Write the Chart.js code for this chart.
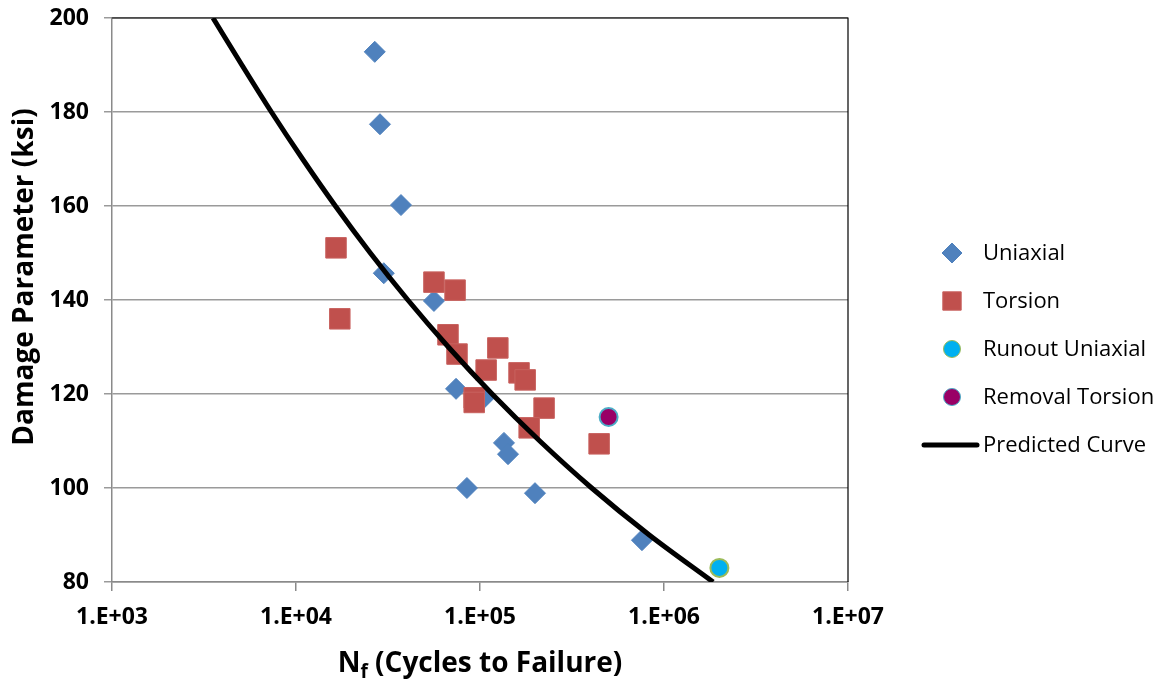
<!DOCTYPE html>
<html>
<head>
<meta charset="utf-8">
<script src="https://cdn.jsdelivr.net/npm/chart.js@4.4.0/dist/chart.umd.min.js"></script>
<style>
  html, body { margin: 0; padding: 0; background: #fff; }
</style>
</head>
<body>
<canvas id="snChart" width="1169" height="680"></canvas>
<script>
// data
var seriesNames = ["Uniaxial", "Torsion", "Runout Uniaxial", "Removal Torsion", "Predicted Curve"];
var xTickValues = [1e3, 1e4, 1e5, 1e6, 1e7];
var xTickLabels = ["1.E+03", "1.E+04", "1.E+05", "1.E+06", "1.E+07"];

var uniaxialN = [26800, 28600, 37200, 30000, 56200, 74100, 104000, 135000, 142000, 84900, 199000, 759000];
var uniaxialS = [192.8, 177.4, 160.2, 145.7, 139.8, 121.1, 119.0, 109.6, 107.2, 100.0, 98.9, 88.9];

var torsionN = [16500, 17300, 56200, 73200, 67000, 75000, 125000, 108000, 163000, 176000, 93000, 93000, 223000, 185000, 444000];
var torsionS = [151.1, 136.0, 143.8, 142.1, 132.6, 128.5, 129.8, 125.1, 124.5, 123.0, 119.2, 118.2, 117.0, 112.8, 109.4];

var runoutN = [2000000];
var runoutS = [83.0];

var removalN = [500000];
var removalS = [115.1];

var curveN = [3540, 5080, 7350, 10860, 16370, 25350, 40550, 67300, 116400, 211300, 404600, 831800, 1849000];
var curveS = [200, 190, 180, 170, 160, 150, 140, 130, 120, 110, 100, 90, 80];

function pairs(xs, ys) {
  return xs.map(function(x, i) { return { x: x, y: ys[i] }; });
}

var tickFont = { family: "'Open Sans'", size: 23, weight: 'bold' };

// axis titles (x title has a subscript), frame and legend
var decorPlugin = {
  id: 'decor',
  beforeDatasetsDraw: function(chart) {
    var ctx = chart.ctx, a = chart.chartArea;
    ctx.save();
    ctx.strokeStyle = '#000';
    ctx.lineWidth = 1.2;
    ctx.beginPath();
    ctx.moveTo(a.left, a.top);
    ctx.lineTo(a.right, a.top);
    ctx.lineTo(a.right, a.bottom);
    ctx.stroke();
    ctx.restore();
  },
  afterDraw: function(chart) {
    var ctx = chart.ctx, a = chart.chartArea;
    ctx.save();
    ctx.fillStyle = '#000';

    // x title: N_f (Cycles to Failure)
    var big = "bold 28px 'Open Sans'", small = "bold 19px 'Open Sans'";
    var rest = " (Cycles to Failure)";
    ctx.font = big;
    var wN = ctx.measureText("N").width, wR = ctx.measureText(rest).width;
    ctx.font = small;
    var wF = ctx.measureText("f").width;
    var cx = (a.left + a.right) / 2;
    var x0 = cx - (wN + wF + wR) / 2;
    var base = 672;
    ctx.textBaseline = 'alphabetic';
    ctx.textAlign = 'left';
    ctx.font = big;
    ctx.fillText("N", x0, base);
    ctx.font = small;
    ctx.fillText("f", x0 + wN, base + 6);
    ctx.font = big;
    ctx.fillText(rest, x0 + wN + wF, base);

    // y title
    ctx.save();
    ctx.translate(33, 277);
    ctx.rotate(-Math.PI / 2);
    ctx.textAlign = 'center';
    ctx.font = big;
    ctx.fillText("Damage Parameter (ksi)", 0, 0);
    ctx.restore();

    // legend
    var rowY = 253, rowGap = 48, markX = 952, textX = 983;
    ctx.font = "22px 'Open Sans'";
    ctx.textBaseline = 'middle';
    chart.data.datasets.forEach(function(ds, i) {
      var y = rowY + i * rowGap;
      if (ds.showLine) {
        ctx.strokeStyle = ds.borderColor;
        ctx.lineWidth = 5;
        ctx.lineCap = 'round';
        ctx.beginPath();
        ctx.moveTo(924, y);
        ctx.lineTo(977, y);
        ctx.stroke();
      } else {
        ctx.fillStyle = ds.backgroundColor;
        ctx.strokeStyle = ds.borderColor;
        Chart.helpers.drawPoint(ctx, {
          pointStyle: ds.pointStyle,
          radius: ds.legendRadius,
          borderWidth: ds.borderWidth,
          rotation: 0
        }, markX, y);
      }
      ctx.fillStyle = '#000';
      ctx.fillText(ds.label, textX, y + 1);
    });
    ctx.restore();
  }
};

var chart = new Chart(document.getElementById('snChart'), {
  type: 'scatter',
  data: {
    datasets: [
      {
        label: seriesNames[0],
        data: pairs(uniaxialN, uniaxialS),
        pointStyle: 'rectRot',
        pointRadius: 10.5,
        legendRadius: 10,
        backgroundColor: '#4F81BD',
        borderColor: '#4F81BD',
        borderWidth: 1,
        order: 4
      },
      {
        label: seriesNames[1],
        data: pairs(torsionN, torsionS),
        pointStyle: 'rect',
        pointRadius: 14.5,
        legendRadius: 13,
        backgroundColor: '#C0504D',
        borderColor: '#C8625F',
        borderWidth: 1,
        order: 3
      },
      {
        label: seriesNames[2],
        data: pairs(runoutN, runoutS),
        pointStyle: 'circle',
        pointRadius: 9,
        legendRadius: 8.5,
        backgroundColor: '#00B0F0',
        borderColor: '#9BBB59',
        borderWidth: 2,
        order: 2
      },
      {
        label: seriesNames[3],
        data: pairs(removalN, removalS),
        pointStyle: 'circle',
        pointRadius: 9,
        legendRadius: 8.5,
        backgroundColor: '#990066',
        borderColor: '#4BACC6',
        borderWidth: 2,
        order: 1
      },
      {
        label: seriesNames[4],
        data: pairs(curveN, curveS),
        showLine: true,
        pointRadius: 0,
        borderColor: '#000',
        backgroundColor: '#000',
        borderWidth: 5,
        cubicInterpolationMode: 'monotone',
        order: 0
      }
    ]
  },
  options: {
    responsive: false,
    animation: false,
    layout: { padding: { top: 18, right: 321, left: 0, bottom: 0 } },
    plugins: {
      legend: { display: false },
      tooltip: { enabled: false }
    },
    scales: {
      x: {
        type: 'logarithmic',
        min: 1e3,
        max: 1e7,
        afterBuildTicks: function(scale) {
          scale.ticks = xTickValues.map(function(v) { return { value: v }; });
        },
        afterFit: function(scale) { scale.height = 98; },
        ticks: {
          font: tickFont,
          color: '#000',
          padding: 13,
          autoSkip: false,
          maxRotation: 0,
          callback: function(v) {
            var i = xTickValues.indexOf(v);
            return i >= 0 ? xTickLabels[i] : '';
          }
        },
        grid: {
          drawOnChartArea: false,
          drawTicks: true,
          tickLength: 9,
          color: '#8a8a8a',
          lineWidth: 1.5
        },
        border: { color: '#8a8a8a', width: 1.5 }
      },
      y: {
        min: 80,
        max: 200,
        afterFit: function(scale) {
          scale.width = 112;
          scale.paddingTop = 0;
          scale.paddingBottom = 0;
        },
        ticks: {
          stepSize: 20,
          font: tickFont,
          color: '#000',
          padding: 15
        },
        grid: {
          color: '#9a9a9a',
          lineWidth: 1.5,
          tickLength: 8
        },
        border: { color: '#8a8a8a', width: 1.5 }
      }
    }
  },
  plugins: [decorPlugin]
});
</script>
</body>
</html>
